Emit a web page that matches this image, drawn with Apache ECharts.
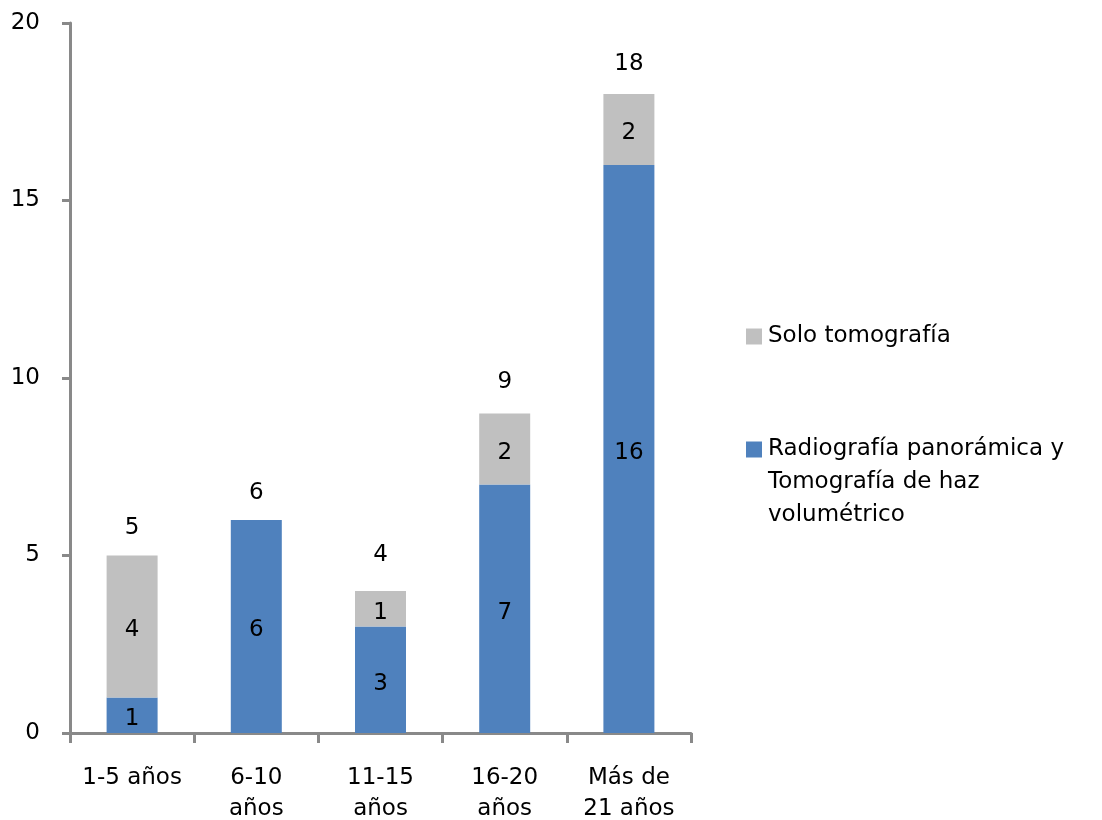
<!DOCTYPE html>
<html>
<head>
<meta charset="utf-8">
<script src="https://cdn.jsdelivr.net/npm/echarts@6/dist/echarts.min.js"></script>
<style>
  html, body { margin: 0; padding: 0; background: #fff; overflow: hidden; }
  #chart { width: 1102px; height: 820px; }
</style>
</head>
<body>
<div id="chart"></div>
<script>
// Age groups (x axis)
const categories = ['1-5 años', '6-10\naños', '11-15\naños', '16-20\naños', 'Más de\n21 años'];
// Series names
const nameSolo = 'Solo tomografía';
const nameCombo = 'Radiografía panorámica y Tomografía de haz volumétrico';
// Legend text lines for the long series name
const comboLegendLines = ['Radiografía panorámica y', 'Tomografía de haz', 'volumétrico'];
// Counts per age group
const comboValues = [1, 6, 3, 7, 16];
const soloValues = [4, 0, 1, 2, 2];
// Gap between each bar top and its total label
const totalGaps = [16, 15, 24, 20, 18];

const totals = comboValues.map((v, i) => v + soloValues[i]);

const FONT = 'DejaVu Sans';
const FS = 23;
const AXIS = '#898989';

const chart = echarts.init(document.getElementById('chart'), null, { renderer: 'canvas' });

const segLabel = {
  show: true,
  position: 'inside',
  offset: [0, 4],
  color: '#000',
  fontFamily: FONT,
  fontSize: FS,
  formatter: p => (p.value ? String(p.value) : '')
};

const legendRich = { t: { fontFamily: FONT, fontSize: FS, color: '#000', lineHeight: 33, padding: [0, 0, 0, 1] } };

chart.setOption({
  animation: false,
  backgroundColor: '#fff',
  textStyle: { fontFamily: FONT },
  grid: {
    left: 70, right: 411, top: 23, bottom: 87,
    containLabel: false,
    outerBoundsMode: 'none'
  },
  legend: [
    {
      data: [nameSolo],
      orient: 'vertical',
      left: 741,
      top: 315,
      itemWidth: 16,
      itemHeight: 16,
      icon: 'rect',
      formatter: n => '{t|' + n + '}',
      textStyle: { fontFamily: FONT, fontSize: FS, color: '#000', lineHeight: 33, rich: legendRich }
    },
    {
      data: [nameCombo],
      orient: 'vertical',
      left: 741,
      top: 362,
      itemWidth: 16,
      itemHeight: 16,
      icon: 'rect',
      // two blank lines first so the marker sits beside the first text line
      formatter: () => '{t|}\n{t|}\n' + comboLegendLines.map(s => '{t|' + s + '}').join('\n'),
      textStyle: { fontFamily: FONT, fontSize: FS, color: '#000', lineHeight: 33, rich: legendRich }
    }
  ],
  xAxis: {
    type: 'category',
    data: categories,
    axisLine: { show: true, lineStyle: { color: AXIS, width: 3 } },
    axisTick: { show: true, length: 10, lineStyle: { color: AXIS, width: 3 } },
    axisLabel: {
      color: '#000', fontFamily: FONT, fontSize: FS,
      lineHeight: 31, margin: 30, interval: 0
    },
    splitLine: { show: false }
  },
  yAxis: {
    type: 'value',
    min: 0,
    max: 20,
    interval: 5,
    axisLine: { show: true, lineStyle: { color: AXIS, width: 3 } },
    axisTick: { show: true, length: 8, lineStyle: { color: AXIS, width: 3 } },
    axisLabel: { color: '#000', fontFamily: FONT, fontSize: FS, margin: 30 },
    splitLine: { show: false }
  },
  series: [
    {
      name: nameCombo,
      type: 'bar',
      stack: 'total',
      barWidth: 51,
      data: comboValues,
      itemStyle: { color: '#4F81BD' },
      label: segLabel
    },
    {
      name: nameSolo,
      type: 'bar',
      stack: 'total',
      barWidth: 51,
      data: soloValues,
      itemStyle: { color: '#C0C0C0' },
      label: segLabel
    },
    {
      name: 'Total',
      type: 'scatter',
      symbolSize: 0,
      silent: true,
      itemStyle: { opacity: 1 },
      data: totals.map((t, i) => ({
        value: t,
        label: { distance: totalGaps[i] }
      })),
      label: {
        show: true,
        position: 'top',
        color: '#000',
        fontFamily: FONT,
        fontSize: FS,
        formatter: p => String(p.value)
      }
    }
  ]
});
</script>
</body>
</html>
